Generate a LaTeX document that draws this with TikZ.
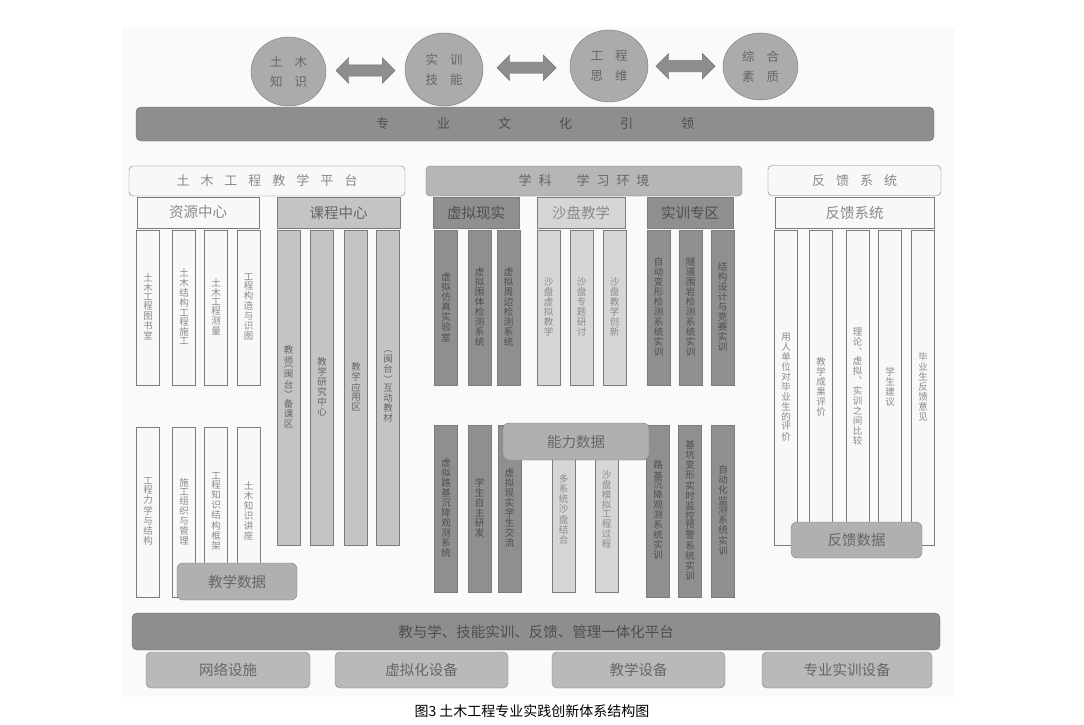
\documentclass[tikz,border=0pt]{standalone}
\usepackage{fontspec}
\setmainfont{Noto Sans CJK SC}
\usepackage{xcolor}
\usepackage{tikz}
\usetikzlibrary{shapes.geometric, shapes.arrows}
\definecolor{paper}{HTML}{FAFAFA}
\definecolor{barfill}{HTML}{8E8E8E}
\definecolor{barline}{HTML}{6E6E6E}
\definecolor{bartext}{HTML}{4E4E4E}
\definecolor{ballfill}{HTML}{ABABAB}
\definecolor{ballline}{HTML}{777777}
\definecolor{whitefill}{HTML}{F8F8F8}
\definecolor{midfill}{HTML}{C4C4C4}
\definecolor{darkfill}{HTML}{8F8F8F}
\definecolor{lightfill}{HTML}{D6D6D6}
\definecolor{envfill}{HTML}{B6B6B6}
\definecolor{datafill}{HTML}{B0B0B0}
\definecolor{devfill}{HTML}{B9B9B9}
\definecolor{edgegrey}{HTML}{7C7C7C}
\definecolor{softtext}{HTML}{8A8A8A}
\definecolor{midtext}{HTML}{666666}

% vertical text, one character per line
\ExplSyntaxOn
\NewDocumentCommand\vtxt{m}{
  \vbox:n {\offinterlineskip
    \tl_map_inline:nn {#1} {\hbox_to_wd:nn {1em} {\hss ##1 \hss} \skip_vertical:n {1.4pt}}}}
\ExplSyntaxOff

\tikzset{
  ball/.style={ellipse, draw=ballline, fill=ballfill, inner sep=0pt, text=midtext,
    align=center, font=\fontsize{12.5}{20}\selectfont},
  dblarrow/.style={double arrow, draw=barline, fill=barfill, inner xsep=0pt, inner ysep=5.5pt,
    minimum height=59pt, minimum width=25pt, double arrow head extend=7pt},
  bigbar/.style={draw=barline, fill=barfill, rounded corners=5pt, text=bartext},
  head/.style={draw=edgegrey, rounded corners=4pt, minimum height=30pt,
    font=\fontsize{13}{13}\selectfont},
  subhead/.style={draw=edgegrey, minimum height=31pt, font=\fontsize{14.5}{15}\selectfont},
  col/.style={draw=edgegrey, line width=0.7pt, minimum width=23pt, inner sep=0pt,
    font=\fontsize{9.5}{10}\selectfont},
  wcol/.style={col, fill=whitefill, text=softtext},
  gcol/.style={col, fill=midfill, text=midtext},
  dcol/.style={col, fill=darkfill, text=bartext},
  lcol/.style={col, fill=lightfill, text=softtext},
  databox/.style={draw=edgegrey, fill=datafill, rounded corners=6pt, text=midtext,
    font=\fontsize{14.5}{15}\selectfont},
  devbox/.style={draw=edgegrey, fill=devfill, rounded corners=5pt, text=midtext,
    minimum height=36pt, font=\fontsize{14.5}{15}\selectfont}
}

\begin{document}
\begin{tikzpicture}[x=1pt, y=-1pt]
  \useasboundingbox (0,0) rectangle (1084,725);
  \fill[paper] (122,27) rectangle (955,697);

  % guiding ideas
  \node[ball, minimum width=75pt, minimum height=69pt] (know) at (288.5,71.5) {土\hspace{12pt}木\\知\hspace{12pt}识};
  \node[ball, minimum width=78pt, minimum height=73pt] (skill) at (444,69.5) {实\hspace{12pt}训\\技\hspace{12pt}能};
  \node[ball, minimum width=78pt, minimum height=72pt] (think) at (609,66) {工\hspace{12pt}程\\思\hspace{12pt}维};
  \node[ball, minimum width=75pt, minimum height=67pt] (quality) at (760.5,66.5) {综\hspace{12pt}合\\素\hspace{12pt}质};
  \path (know) -- node[dblarrow] (a1) {} (skill);
  \path (skill) -- node[dblarrow] (a2) {} (think);
  \path (think) -- node[dblarrow] (a3) {} (quality);
  \node[bigbar, minimum width=798pt, minimum height=34pt, font=\fontsize{13}{13}\selectfont] (culture) at (535,124)
    {专\hspace{48pt}业\hspace{48pt}文\hspace{48pt}化\hspace{48pt}引\hspace{48pt}领};

  % headers
  \node[head, fill=whitefill, text=softtext, minimum width=276pt] (civil) at (267,181)
    {土\hspace{11pt}木\hspace{11pt}工\hspace{11pt}程\hspace{11pt}教\hspace{11pt}学\hspace{11pt}平\hspace{11pt}台};
  \node[head, fill=envfill, text=midtext, minimum width=316pt] (env) at (584,181)
    {学\hspace{7pt}科\hspace{25pt}学\hspace{7pt}习\hspace{7pt}环\hspace{7pt}境};
  \node[head, fill=whitefill, text=softtext, minimum width=173pt] (feed) at (854.5,180.5)
    {反\hspace{11pt}馈\hspace{11pt}系\hspace{11pt}统};

  \node[subhead, fill=whitefill, text=softtext, minimum width=122pt] (res) at (198,212.5) {资源中心};
  \node[subhead, fill=midfill, text=midtext, minimum width=123pt] (course) at (338.5,212.5) {课程中心};
  \node[subhead, fill=darkfill, text=bartext, minimum width=86pt] (vr) at (476,212.5) {虚拟现实};
  \node[subhead, fill=lightfill, text=softtext, minimum width=88pt] (sand) at (581,212.5) {沙盘教学};
  \node[subhead, fill=darkfill, text=bartext, minimum width=86pt] (train) at (690,212.5) {实训专区};
  \node[subhead, fill=whitefill, text=softtext, minimum width=159pt] (fb) at (854.5,212.5) {反馈系统};

  % resource centre
  \node[wcol, minimum height=155pt] (res1) at (148,307.5) {\vtxt{土木工程图书室}};
  \node[wcol, minimum height=155pt] (res2) at (184,307.5) {\vtxt{土木结构工程施工}};
  \node[wcol, minimum height=155pt] (res3) at (216,307.5) {\vtxt{土木工程测量}};
  \node[wcol, minimum height=155pt] (res4) at (248.5,307.5) {\vtxt{工程构造与识图}};
  \node[wcol, minimum height=170pt] (res5) at (148,512) {\vtxt{工程力学与结构}};
  \node[wcol, minimum height=170pt] (res6) at (184,512) {\vtxt{施工组织与管理}};
  \node[wcol, minimum height=170pt] (res7) at (216,512) {\vtxt{工程知识结构框架}};
  \node[wcol, minimum height=170pt] (res8) at (248.5,512) {\vtxt{土木知识讲座}};
  \node[databox, minimum width=120pt, minimum height=37pt] (teachdata) at (237,581.5) {教学数据};

  % course centre
  \node[gcol, minimum height=315pt] (cou1) at (288.5,387.5) {\vtxt{教师︵闽台︶备课区}};
  \node[gcol, minimum height=315pt] (cou2) at (322,387.5) {\vtxt{教学研究中心}};
  \node[gcol, minimum height=315pt] (cou3) at (356,387.5) {\vtxt{教学应用区}};
  \node[gcol, minimum height=315pt] (cou4) at (388,387.5) {\vtxt{︵闽台︶互动教材}};

  % learning environment, upper row
  \node[dcol, minimum height=155pt] (vr1) at (446,307.5) {\vtxt{虚拟仿真实验室}};
  \node[dcol, minimum height=155pt] (vr2) at (479.5,307.5) {\vtxt{虚拟围体检测系统}};
  \node[dcol, minimum height=155pt] (vr3) at (508.5,307.5) {\vtxt{虚拟周边检测系统}};
  \node[lcol, minimum height=155pt] (sd1) at (548.5,307.5) {\vtxt{沙盘虚拟教学}};
  \node[lcol, minimum height=155pt] (sd2) at (581.5,307.5) {\vtxt{沙盘专题研讨}};
  \node[lcol, minimum height=155pt] (sd3) at (614.5,307.5) {\vtxt{沙盘教学创新}};
  \node[dcol, minimum height=155pt] (tr1) at (658.5,307.5) {\vtxt{自动变形检测系统实训}};
  \node[dcol, minimum height=155pt] (tr2) at (690.5,307.5) {\vtxt{隧道围岩检测系统实训}};
  \node[dcol, minimum height=155pt] (tr3) at (722.5,307.5) {\vtxt{结构设计与竞赛实训}};

  % learning environment, lower row
  \node[dcol, minimum height=167pt] (vr4) at (446,508.5) {\vtxt{虚拟路基沉降观测系统}};
  \node[dcol, minimum height=167pt] (vr5) at (479.5,508.5) {\vtxt{学生自主研发}};
  \node[dcol, minimum height=167pt] (vr6) at (509.5,508.5) {\vtxt{虚拟现实学生交流}};
  \node[lcol, minimum height=164pt] (sd4) at (563.5,510) {\vtxt{多系统沙盘结合}};
  \node[lcol, minimum height=164pt] (sd5) at (606.5,510) {\vtxt{沙盘模拟工程过程}};
  \node[dcol, minimum height=172pt] (tr4) at (658,511) {\vtxt{路基沉降观测系统实训}};
  \node[dcol, minimum height=172pt] (tr5) at (690,511) {\vtxt{基坑变形实时监控预警系统实训}};
  \node[dcol, minimum height=172pt] (tr6) at (723,511) {\vtxt{自动化监测系统实训}};
  \node[databox, minimum width=146pt, minimum height=37pt] (abilitydata) at (576,441.5) {能力数据};

  % feedback system
  \node[wcol, minimum height=315pt] (fb1) at (786,387.5) {\vtxt{用人单位对毕业生的评价}};
  \node[wcol, minimum height=315pt] (fb2) at (821,387.5) {\vtxt{教学成果评价}};
  \node[wcol, minimum height=315pt] (fb3) at (857.5,387.5) {\vtxt{理论︑虚拟︑实训之间比较}};
  \node[wcol, minimum height=315pt] (fb4) at (890,387.5) {\vtxt{学生建议}};
  \node[wcol, minimum height=315pt] (fb5) at (923,387.5) {\vtxt{毕业生反馈意见}};
  \node[databox, minimum width=131pt, minimum height=36pt] (fbdata) at (856.5,540) {反馈数据};

  % base platform
  \node[devbox, minimum width=164pt] (net) at (228,670) {网络设施};
  \node[devbox, minimum width=173pt] (virt) at (421.5,670) {虚拟化设备};
  \node[devbox, minimum width=173pt] (teachdev) at (638.5,670) {教学设备};
  \node[devbox, minimum width=170pt] (majordev) at (847,670) {专业实训设备};
  \node[bigbar, minimum width=808pt, minimum height=37pt, font=\fontsize{14.5}{15}\selectfont] (base) at (536,631.5)
    {教与学、技能实训、反馈、管理一体化平台};

  \node[font=\fontsize{14}{14}\selectfont] (caption) at (532,711) {图3 土木工程专业实践创新体系结构图};
\end{tikzpicture}
\end{document}
